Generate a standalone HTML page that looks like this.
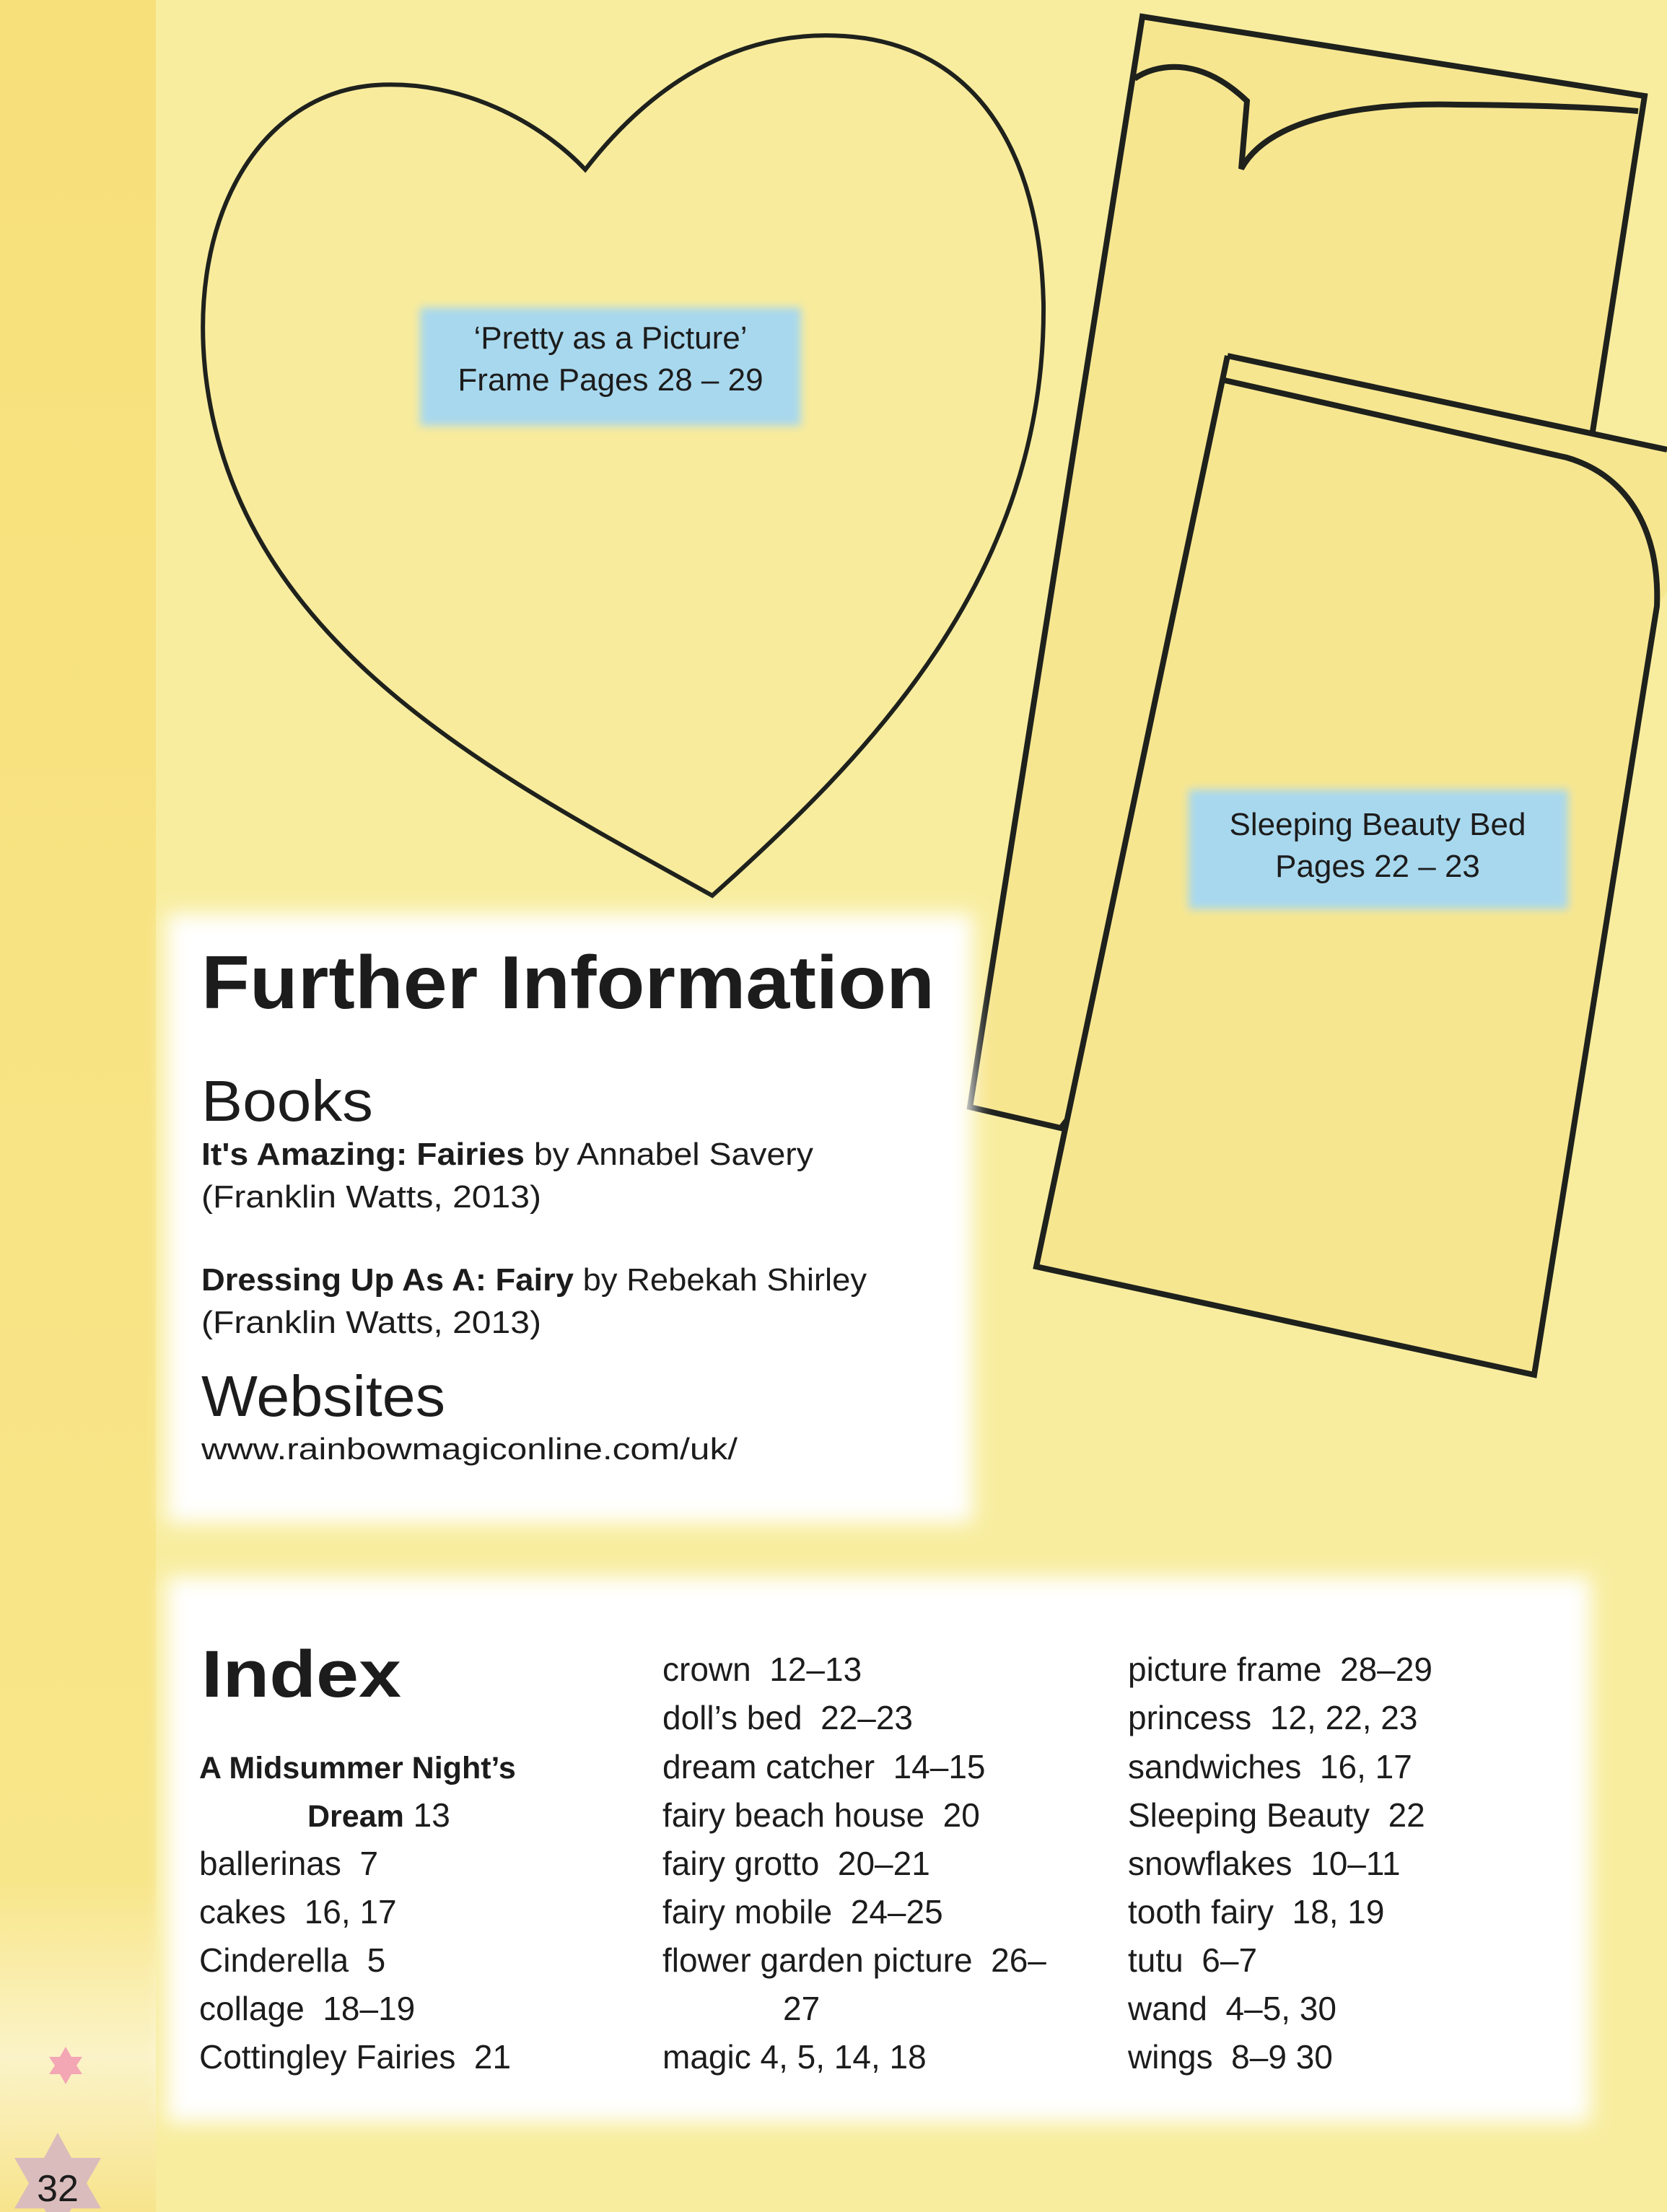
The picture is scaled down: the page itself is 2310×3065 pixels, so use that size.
<!DOCTYPE html>
<html><head><meta charset="utf-8"><style>
html,body{margin:0;padding:0;width:2310px;height:3065px;overflow:hidden;background:#f8ed9f}
svg{display:block}
text{font-family:"Liberation Sans",sans-serif;fill:#1c1c1c}
</style></head><body>
<svg width="2310" height="3065" viewBox="0 0 2310 3065" xmlns="http://www.w3.org/2000/svg">
<defs>
<filter id="blur" x="-10%" y="-10%" width="120%" height="120%"><feGaussianBlur stdDeviation="14"/></filter>
<filter id="blur2" x="-10%" y="-10%" width="120%" height="120%"><feGaussianBlur stdDeviation="6"/></filter>
<linearGradient id="strip" x1="0" y1="0" x2="0" y2="1">
<stop offset="0" stop-color="#f7e07a"/><stop offset="0.85" stop-color="#f8e68a"/><stop offset="0.93" stop-color="#fbf3c8"/><stop offset="1" stop-color="#f7e48c"/>
</linearGradient>
</defs>
<rect x="0" y="0" width="2310" height="3065" fill="#f8ed9f"/>
<rect x="0" y="0" width="216" height="3065" fill="url(#strip)"/>

<!-- heart -->
<path d="M987 1241 C700 1080 330 900 285 520 C260 300 360 130 520 118 C640 110 750 170 811 235 C900 120 1020 40 1170 50 C1330 60 1440 180 1446 420 C1450 800 1200 1050 987 1241 Z" fill="#f8eb9c" stroke="#1e211c" stroke-width="6"/>

<!-- headboard -->
<path d="M1583 23 L2279 133 L2207 598 L1470 1563 L1344 1534 Z" fill="#f7e690" stroke="#1e211c" stroke-width="8" stroke-linejoin="miter"/>
<path d="M1572 109 C1600 90 1660 75 1728 140 L1720 234 C1760 160 1900 142 2020 145 C2150 146 2230 150 2270 154" fill="none" stroke="#1e211c" stroke-width="8"/>

<!-- bed -->
<path d="M1701 493 L2310 623 L2310 820 L2296 840 L2126 1905 L1436 1755 Z" fill="#f7e690" stroke="none"/>
<path d="M1701 493 L2310 623" fill="none" stroke="#1e211c" stroke-width="8"/>
<path d="M1697 527 L2171 634 C2260 660 2300 740 2296 840 L2126 1905 L1436 1755 L1701 493" fill="none" stroke="#1e211c" stroke-width="8" stroke-linejoin="miter"/>

<!-- blue labels -->
<rect x="582" y="426" width="528" height="164" fill="#a8d8ee" filter="url(#blur2)"/>
<rect x="1647" y="1094" width="526" height="166" fill="#a8d8ee" filter="url(#blur2)"/>
<text x="846" y="483" font-size="44" text-anchor="middle">‘Pretty as a Picture’</text>
<text x="846" y="541" font-size="44" text-anchor="middle">Frame Pages 28 – 29</text>
<text x="1909" y="1157" font-size="44" text-anchor="middle">Sleeping Beauty Bed</text>
<text x="1909" y="1215" font-size="44" text-anchor="middle">Pages 22 – 23</text>

<!-- white boxes -->
<rect x="231" y="1266" width="1117" height="844" fill="#fff" filter="url(#blur)"/>
<rect x="231" y="2185" width="1973" height="756" fill="#fff" filter="url(#blur)"/>

<!-- Further information -->
<text x="279" y="1397" font-size="104" font-weight="bold" textLength="1016" lengthAdjust="spacingAndGlyphs">Further Information</text>
<text x="279" y="1553" font-size="80" textLength="238" lengthAdjust="spacingAndGlyphs">Books</text>
<text x="279" y="1614" font-size="44" textLength="848" lengthAdjust="spacingAndGlyphs"><tspan font-weight="bold">It's Amazing: Fairies</tspan> by Annabel Savery</text>
<text x="279" y="1673" font-size="44" textLength="471" lengthAdjust="spacingAndGlyphs">(Franklin Watts, 2013)</text>
<text x="279" y="1788" font-size="44" textLength="922" lengthAdjust="spacingAndGlyphs"><tspan font-weight="bold">Dressing Up As A: Fairy</tspan> by Rebekah Shirley</text>
<text x="279" y="1847" font-size="44" textLength="471" lengthAdjust="spacingAndGlyphs">(Franklin Watts, 2013)</text>
<text x="279" y="1962" font-size="80" textLength="338" lengthAdjust="spacingAndGlyphs">Websites</text>
<text x="279" y="2022" font-size="42" textLength="743" lengthAdjust="spacingAndGlyphs">www.rainbowmagiconline.com/uk/</text>

<!-- Index -->
<text x="279" y="2351" font-size="92" font-weight="bold" textLength="277" lengthAdjust="spacingAndGlyphs">Index</text>
<g font-size="46">
<text x="276" y="2464" font-weight="bold" font-size="43">A Midsummer Night’s</text>
<text x="426" y="2531"><tspan font-weight="bold" font-size="43">Dream</tspan>  13</text>
<text x="276" y="2598" xml:space="preserve">ballerinas  7</text>
<text x="276" y="2665" xml:space="preserve">cakes  16, 17</text>
<text x="276" y="2732" xml:space="preserve">Cinderella  5</text>
<text x="276" y="2799" xml:space="preserve">collage  18–19</text>
<text x="276" y="2866" xml:space="preserve">Cottingley Fairies  21</text>

<text x="918" y="2329" xml:space="preserve">crown  12–13</text>
<text x="918" y="2396" xml:space="preserve">doll’s bed  22–23</text>
<text x="918" y="2464" xml:space="preserve">dream catcher  14–15</text>
<text x="918" y="2531" xml:space="preserve">fairy beach house  20</text>
<text x="918" y="2598" xml:space="preserve">fairy grotto  20–21</text>
<text x="918" y="2665" xml:space="preserve">fairy mobile  24–25</text>
<text x="918" y="2732" xml:space="preserve">flower garden picture  26–</text>
<text x="1085" y="2799">27</text>
<text x="918" y="2866" xml:space="preserve">magic 4, 5, 14, 18</text>

<text x="1563" y="2329" xml:space="preserve">picture frame  28–29</text>
<text x="1563" y="2396" xml:space="preserve">princess  12, 22, 23</text>
<text x="1563" y="2464" xml:space="preserve">sandwiches  16, 17</text>
<text x="1563" y="2531" xml:space="preserve">Sleeping Beauty  22</text>
<text x="1563" y="2598" xml:space="preserve">snowflakes  10–11</text>
<text x="1563" y="2665" xml:space="preserve">tooth fairy  18, 19</text>
<text x="1563" y="2732" xml:space="preserve">tutu  6–7</text>
<text x="1563" y="2799" xml:space="preserve">wand  4–5, 30</text>
<text x="1563" y="2866" xml:space="preserve">wings  8–9 30</text>
</g>

<!-- stars -->
<polygon points="91,2836 99,2850 114,2850 106,2862 114,2874 99,2874 91,2888 83,2874 68,2874 76,2862 68,2850 83,2850" fill="#f3a6b4"/>
<polygon points="80,2955 99,2990 140,2990 120,3025 140,3060 99,3060 80,3095 61,3060 20,3060 40,3025 20,2990 61,2990" fill="#dbbcbc"/>
<text x="80" y="3050" font-size="52" text-anchor="middle">32</text>
</svg>
</body></html>
